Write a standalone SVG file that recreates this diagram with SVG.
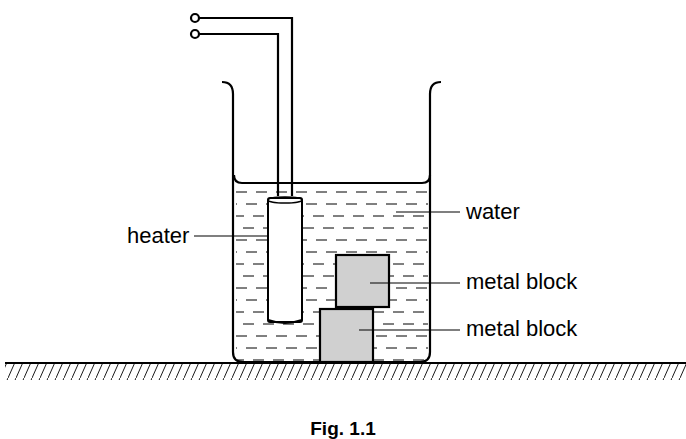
<svg xmlns="http://www.w3.org/2000/svg" width="686" height="439" viewBox="0 0 686 439">
<defs>
<style>
.o{fill:none;stroke:#000;stroke-width:2.2}
.t{font-family:"Liberation Sans",Arial,sans-serif;font-size:22px;fill:#000}
.d{stroke:#000;stroke-width:1;stroke-dasharray:11 9}
.l{stroke:#000;stroke-width:1.2}
.b{fill:#d0d0d0;stroke:#000;stroke-width:2.2}
</style>
<pattern id="h" width="8" height="18" patternUnits="userSpaceOnUse"><line x1="0" y1="18" x2="8" y2="0" stroke="#000" stroke-width="0.9"/></pattern>
</defs>
<g id="ground">
<line x1="5" y1="363" x2="686" y2="363" class="o"/>
<rect x="5" y="364" width="681" height="16" fill="url(#h)"/>
</g>
<g id="water">
<g>
<line x1="236" y1="192" x2="428" y2="192" class="d" stroke-dashoffset="0"/>
<line x1="236" y1="204" x2="428" y2="204" class="d" stroke-dashoffset="10"/>
<line x1="236" y1="216" x2="428" y2="216" class="d" stroke-dashoffset="3"/>
<line x1="236" y1="228" x2="428" y2="228" class="d" stroke-dashoffset="13"/>
<line x1="236" y1="240" x2="428" y2="240" class="d" stroke-dashoffset="0"/>
<line x1="236" y1="252" x2="428" y2="252" class="d" stroke-dashoffset="10"/>
<line x1="236" y1="264" x2="428" y2="264" class="d" stroke-dashoffset="3"/>
<line x1="236" y1="276" x2="428" y2="276" class="d" stroke-dashoffset="13"/>
<line x1="236" y1="288" x2="428" y2="288" class="d" stroke-dashoffset="0"/>
<line x1="236" y1="300" x2="428" y2="300" class="d" stroke-dashoffset="10"/>
<line x1="236" y1="312" x2="428" y2="312" class="d" stroke-dashoffset="3"/>
<line x1="236" y1="324" x2="428" y2="324" class="d" stroke-dashoffset="13"/>
<line x1="236" y1="336" x2="428" y2="336" class="d" stroke-dashoffset="0"/>
<line x1="236" y1="348" x2="428" y2="348" class="d" stroke-dashoffset="10"/>
<line x1="236" y1="360" x2="428" y2="360" class="d" stroke-dashoffset="3"/>
</g>
<path d="M234 175 Q234 183 242 183 L422 183 Q430 183 430 175" class="o"/>
</g>
<g id="beaker">
<path d="M222 82 Q233 82 233 94 L233 352 Q233 362 243 362 L420 362 Q430 362 430 352 L430 94 Q430 82 441 82" class="o"/>
</g>
<g id="heater">
<rect x="268" y="198" width="34" height="124" rx="2" fill="#fff" stroke="#000" stroke-width="2"/>
<ellipse cx="285" cy="200" rx="17" ry="3" fill="none" stroke="#000" stroke-width="1.5"/>
<path d="M268 320 Q285 326 302 320" class="o"/>
</g>
<g id="wires">
<circle cx="195" cy="18" r="4" class="o"/>
<circle cx="195" cy="34" r="4" class="o"/>
<polyline points="199,18 292,18 292,196" class="o"/>
<polyline points="199,34 278,34 278,196" class="o"/>
</g>
<g id="blocks">
<rect x="336" y="255" width="53" height="52" class="b"/>
<rect x="320" y="309" width="53" height="53" class="b"/>
</g>
<g id="labels">
<line x1="194" y1="236" x2="268" y2="236" class="l"/>
<line x1="396" y1="212" x2="460" y2="212" class="l"/>
<line x1="370" y1="283" x2="460" y2="283" class="l"/>
<line x1="359" y1="330" x2="460" y2="330" class="l"/>
<text x="127" y="243" class="t">heater</text>
<text x="466" y="219" class="t">water</text>
<text x="466" y="289" class="t">metal block</text>
<text x="466" y="336" class="t">metal block</text>
<text x="343" y="435" class="t" font-size="19" font-weight="bold" text-anchor="middle" style="font-size:19px">Fig. 1.1</text>
</g>
</svg>
